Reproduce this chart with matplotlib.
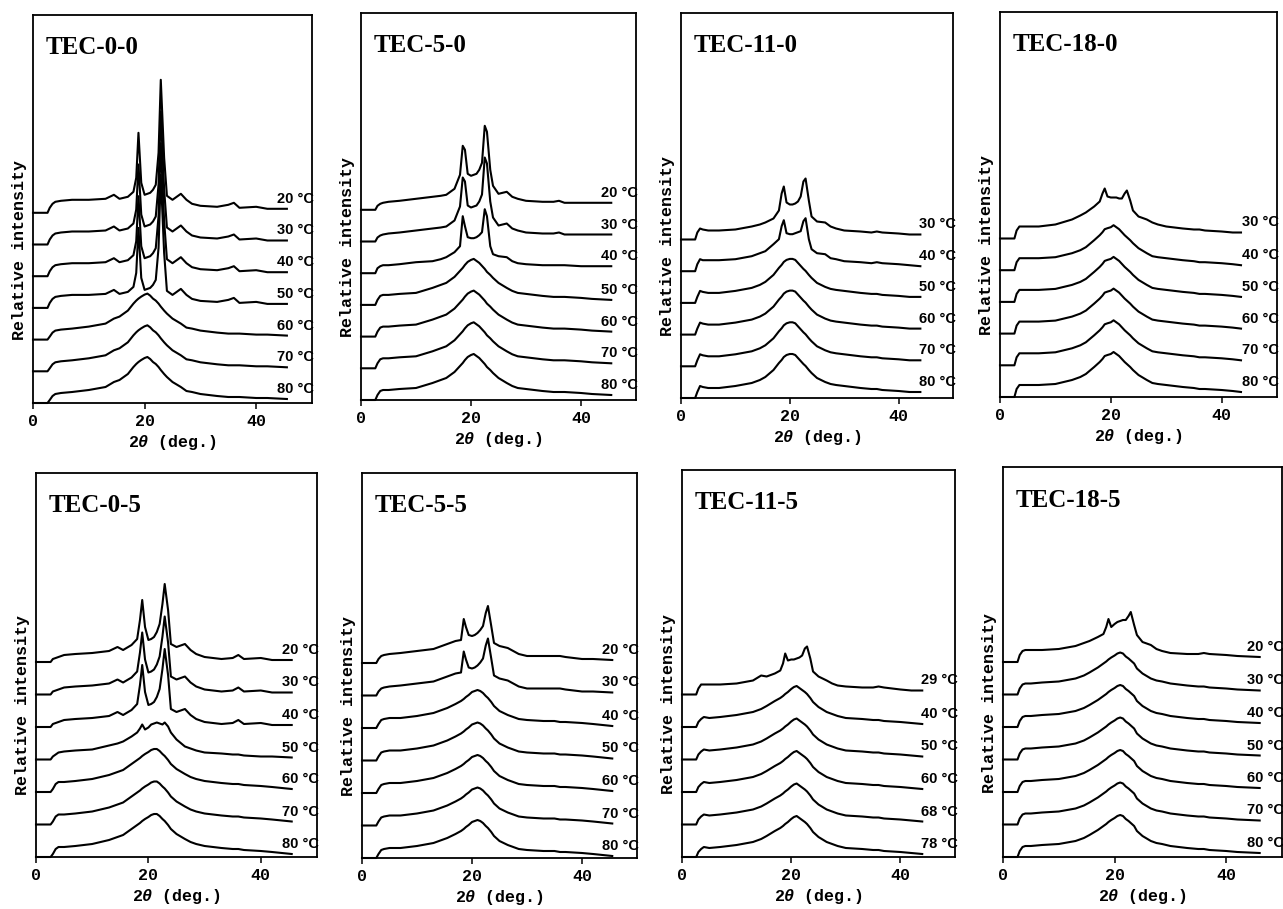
import matplotlib
matplotlib.use("Agg")
import matplotlib.pyplot as plt

plt.rcParams['mathtext.fontset'] = 'custom'
plt.rcParams['mathtext.rm'] = 'Liberation Mono:bold'
plt.rcParams['mathtext.it'] = 'Liberation Mono:italic:bold'
plt.rcParams['mathtext.bf'] = 'Liberation Mono:bold'

# 2-theta grid shared by every trace (last point = end of scan, per panel)
TWO_THETA = [0, 2.6, 3.0, 3.5, 4, 5, 7, 10, 13, 14.5, 15.5, 17, 18, 18.5, 18.9, 19.4,
             20, 20.5, 21, 21.5, 22, 22.5, 22.9, 23.5, 24, 25, 26.5, 27.5, 28.5, 30,
             33, 35, 36, 37, 40, 42]

# intensity profiles (above each trace's own baseline)
tec00_cr = [0, 0, 5, 9, 11, 12, 13, 13, 14, 18, 14, 16, 21, 35, 80, 30, 18, 19, 20, 23,
            28, 60, 133, 55, 17, 13, 19, 13, 9, 7, 6, 8, 10, 5, 6, 4, 4]
tec00_am = [0, 0, 3, 7, 9, 10, 11, 13, 16, 21, 23, 29, 36, 39, 41, 43, 45, 46, 44, 41,
            39, 36, 33, 29, 26, 21, 16, 12, 11, 9, 7, 6, 6, 6, 5, 5, 4]

tec50_cr = [0, 0, 4, 6, 7, 8, 9, 11, 13, 14, 15, 21, 35, 64, 60, 36, 34, 35, 36, 40,
            47, 84, 78, 40, 24, 16, 18, 13, 11, 9, 8, 8, 9, 7, 7, 7, 7]
tec50_cr40 = [0, 0, 5, 7, 8, 8, 9, 11, 12, 14, 16, 21, 27, 57, 47, 36, 35, 35, 36, 38,
              41, 64, 57, 27, 19, 17, 16, 12, 10, 9, 8, 8, 8, 8, 7, 7, 7]
tec50_am = [0, 0, 5, 9, 10, 10, 11, 12, 17, 20, 22, 28, 34, 37, 40, 43, 45, 46, 44, 42,
            39, 36, 33, 30, 27, 22, 17, 14, 12, 11, 9, 8, 8, 8, 7, 6, 5]

tec110_cr = [0, 0, 7, 11, 10, 9, 9, 10, 13, 15, 17, 21, 29, 46, 53, 37, 35, 35, 36, 38,
             43, 58, 61, 39, 23, 18, 17, 13, 11, 9, 8, 7, 8, 7, 6, 5, 5]
tec110_cr40 = [0, 0, 7, 12, 11, 11, 11, 12, 15, 18, 20, 27, 32, 45, 51, 38, 37, 37, 38, 39,
               40, 50, 53, 32, 22, 18, 17, 13, 12, 10, 9, 8, 9, 8, 7, 6, 5]
tec110_am = [0, 0, 6, 12, 11, 10, 10, 12, 15, 18, 21, 28, 35, 38, 41, 43, 44, 44, 43, 40,
             37, 34, 32, 28, 25, 20, 16, 14, 13, 12, 10, 9, 9, 8, 7, 6, 6]

tec180_cr = [0, 0, 8, 12, 12, 12, 12, 14, 19, 23, 26, 32, 37, 45, 50, 42, 41, 41, 41, 40,
             40, 45, 48, 38, 28, 22, 19, 16, 14, 12, 10, 9, 9, 8, 7, 6, 6]
tec180_am = [0, 0, 8, 12, 12, 12, 12, 13, 17, 20, 23, 30, 35, 38, 41, 42, 43, 45, 43, 41,
             38, 35, 33, 30, 27, 22, 17, 14, 13, 12, 10, 9, 8, 8, 7, 6, 5]

tec05_cr = [0, 0, 3, 4, 5, 7, 8, 9, 11, 15, 12, 17, 23, 42, 62, 35, 22, 23, 25, 30,
            38, 58, 78, 52, 18, 15, 18, 12, 8, 5, 3, 4, 7, 3, 4, 2, 2]
tec05_part = [0, 0, 3, 5, 7, 8, 9, 10, 14, 16, 18, 23, 27, 31, 35, 30, 32, 35, 36, 37,
              36, 35, 37, 33, 27, 20, 13, 11, 9, 7, 6, 5, 5, 4, 3, 3, 2]
tec05_am = [0, 0, 3, 8, 10, 10, 11, 13, 17, 20, 22, 28, 32, 34, 36, 38, 40, 42, 43, 43,
            41, 38, 36, 32, 28, 23, 18, 15, 13, 11, 9, 8, 8, 7, 6, 5, 3]

tec55_cr = [0, 0, 4, 7, 8, 9, 10, 12, 14, 17, 19, 22, 23, 44, 36, 28, 27, 28, 30, 33,
            37, 50, 57, 37, 20, 17, 15, 12, 9, 7, 7, 7, 7, 6, 4, 4, 3]
tec55_am = [0, 0, 4, 8, 9, 10, 10, 12, 15, 18, 20, 24, 27, 29, 31, 33, 36, 37, 38, 37,
            35, 32, 30, 26, 22, 17, 13, 11, 9, 8, 7, 7, 6, 6, 5, 4, 2]

tec115_cr = [0, 0, 6, 10, 10, 10, 10, 11, 14, 19, 18, 21, 24, 31, 41, 34, 35, 35, 36, 37,
             39, 46, 48, 36, 23, 18, 14, 11, 9, 8, 7, 7, 8, 7, 5, 4, 4]
tec115_am = [0, 0, 5, 8, 10, 9, 10, 12, 15, 18, 21, 26, 29, 31, 33, 35, 38, 40, 41, 39,
             37, 35, 33, 29, 25, 20, 15, 13, 11, 9, 8, 7, 7, 6, 5, 4, 3]

tec185_cr = [0, 0, 7, 11, 12, 12, 12, 13, 16, 19, 21, 25, 28, 35, 43, 35, 38, 40, 41, 42,
             42, 46, 50, 37, 27, 20, 17, 13, 11, 9, 8, 8, 9, 8, 7, 6, 5]
tec185_am = [0, 0, 6, 10, 11, 11, 12, 13, 16, 19, 22, 27, 31, 33, 35, 37, 39, 41, 42, 41,
             38, 36, 34, 31, 26, 21, 16, 14, 13, 11, 9, 8, 8, 7, 6, 5, 4]

names = ["TEC-0-0", "TEC-5-0", "TEC-11-0", "TEC-18-0",
         "TEC-0-5", "TEC-5-5", "TEC-11-5", "TEC-18-5"]
temps = [[20, 30, 40, 50, 60, 70, 80],
         [20, 30, 40, 50, 60, 70, 80],
         [30, 40, 50, 60, 70, 80],
         [30, 40, 50, 60, 70, 80],
         [20, 30, 40, 50, 60, 70, 80],
         [20, 30, 40, 50, 60, 70, 80],
         [29, 40, 50, 60, 68, 78],
         [20, 30, 40, 50, 60, 70, 80]]
profiles = [[tec00_cr] * 4 + [tec00_am] * 3,
            [tec50_cr, tec50_cr, tec50_cr40] + [tec50_am] * 4,
            [tec110_cr, tec110_cr40] + [tec110_am] * 4,
            [tec180_cr] + [tec180_am] * 5,
            [tec05_cr] * 3 + [tec05_part] + [tec05_am] * 3,
            [tec55_cr] * 2 + [tec55_am] * 5,
            [tec115_cr] + [tec115_am] * 5,
            [tec185_cr] + [tec185_am] * 6]
scan_end = [45.5, 45.5, 44, 43.5, 45.5, 45.5, 44, 46]

# layout: panel frames in pixels (left, top, right, bottom)
W, H = 1283, 909
boxes = [(33, 15, 312, 403), (361, 13, 636, 400), (681, 13, 953, 398), (1000, 12, 1277, 397),
         (36, 473, 317, 857), (362, 473, 637, 858), (682, 470, 955, 857), (1003, 467, 1282, 857)]

MONO = "Liberation Mono"
LABEL_FONT = ["Liberation Sans Narrow", "Liberation Sans", "DejaVu Sans"]

fig = plt.figure(figsize=(W / 100, H / 100), dpi=100)

for i, name in enumerate(names):
    l, t, r, b = boxes[i]
    ax = fig.add_axes([l / W, 1 - b / H, (r - l) / W, (b - t) / H])
    ax.set_xlim(0, 50)
    ax.set_ylim(0, b - t)
    spacing = 31.7 if i < 4 else 32.5
    x = TWO_THETA + [scan_end[i]]
    n = len(temps[i])
    for k, (temp, prof) in enumerate(zip(temps[i], profiles[i])):
        off = (n - 1 - k) * spacing
        ax.plot(x, [off + v for v in prof], color="black", lw=1.5,
                solid_joinstyle="round", clip_on=False)
        ax.text(43.7, off + prof[-1] + 3, f"{temp} °C", family=LABEL_FONT,
                fontweight="bold", fontsize=10.5, ha="left", va="bottom", clip_on=False)

    ax.text(0.045, 0.915, name, transform=ax.transAxes, family="Liberation Serif",
            fontweight="bold", fontsize=18, ha="left", va="center")

    for s in ax.spines.values():
        s.set_linewidth(1.3)
    ax.set_yticks([])
    ax.set_xticks([0, 20, 40])
    ax.set_xticklabels(["0", "20", "40"], family=MONO, fontweight="bold", fontsize=12)
    ax.tick_params(axis="x", direction="out", length=4, width=1.1, pad=4)
    ax.set_xlabel(r"2$\theta$ (deg.)", family=MONO, fontweight="bold", fontsize=12, labelpad=3)
    ax.set_ylabel("Relative intensity", family=MONO, fontweight="bold", fontsize=12)
    ax.yaxis.set_label_coords(-0.022, 0.395)

fig.savefig("out.png", dpi=100)
